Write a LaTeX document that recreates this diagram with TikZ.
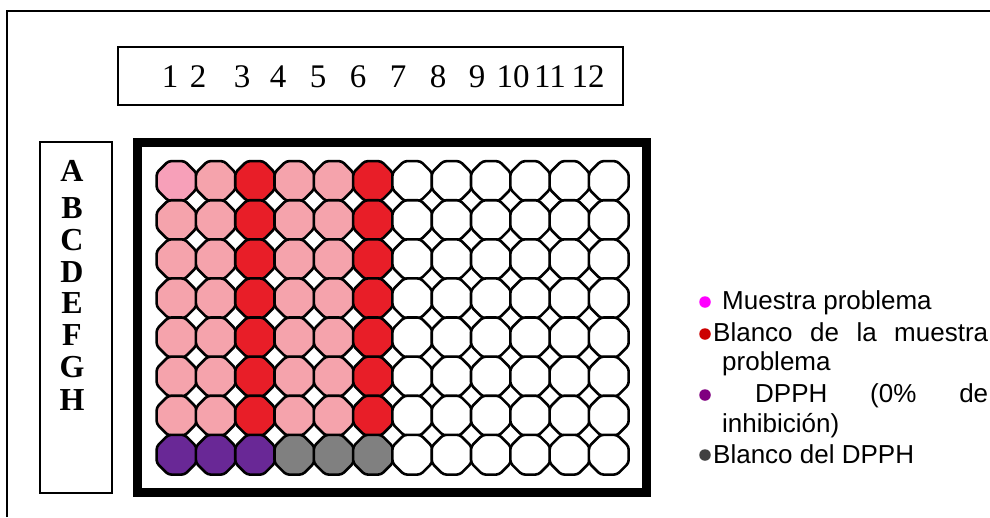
\documentclass[tikz,border=0pt]{standalone}
\usepackage{fontspec}
\setmainfont{Liberation Serif}
\newfontfamily\legendfont{Liberation Sans}
\usetikzlibrary{shapes.geometric}
\definecolor{wellpink}{RGB}{245,163,172}
\definecolor{wellpinkA}{RGB}{247,160,185}
\definecolor{wellred}{RGB}{232,30,40}
\definecolor{wellpurple}{RGB}{105,40,150}
\definecolor{wellgray}{RGB}{128,128,128}
\definecolor{bulmag}{RGB}{255,0,255}
\definecolor{bulred}{RGB}{204,0,0}
\definecolor{bulpur}{RGB}{128,0,128}
\definecolor{bulgray}{RGB}{64,64,64}
\tikzset{
  well/.style={regular polygon, regular polygon sides=8, minimum size=43pt, inner sep=0pt, draw=black, line width=2.6pt, fill=white, rounded corners=3pt},
  labelbox/.style={draw=black, line width=2.5pt, inner sep=0pt},
  platebox/.style={draw=black, line width=9pt, inner sep=0pt},
  bulletdot/.style={circle, inner sep=0pt, minimum size=11.5pt},
  legendtext/.style={anchor=base west, inner sep=0pt, font=\legendfont\fontsize{26}{30}\selectfont},
  colnum/.style={font=\fontsize{33}{36}\selectfont, inner sep=0pt, anchor=base},
  rowlet/.style={font=\bfseries\fontsize{32}{34}\selectfont, inner sep=0pt},
}
\begin{document}
\begin{tikzpicture}[x=1pt,y=-1pt]
\useasboundingbox (0,0) rectangle (990,517);
% outer frame (top and left edges)
\draw[line width=2.5pt] (7,517) -- (7,11) -- (990,11);
% label boxes
\node[labelbox, minimum width=505pt, minimum height=58pt] (numbox) at (370.5,76) {};
\node[labelbox, minimum width=72pt, minimum height=351pt] (letbox) at (76,317.5) {};
% plate frame
\node[platebox, minimum width=508.5pt, minimum height=350pt] (plate) at (391.75,317.5) {};
% column numbers
\foreach \n/\x in {1/170,2/198,3/242,4/278,5/318,6/358,7/398,8/438,9/477,10/513,11/550,12/588}{
  \node[colnum] (num\n) at (\x,87) {\n};
}
% row letters
\foreach \l/\y in {A/171,B/208,C/240,D/272,E/303,F/335,G/367,H/400}{
  \node[rowlet] (let\l) at (72,\y) {\l};
}
% wells
\foreach \r in {1,...,8}{
  \foreach \c in {1,...,12}{
    \def\wc{white}
    \ifnum\r<8
      \ifnum\c<7 \def\wc{wellpink}\fi
      \ifnum\c=3 \def\wc{wellred}\fi
      \ifnum\c=6 \def\wc{wellred}\fi
    \else
      \ifnum\c<7 \def\wc{wellgray}\fi
      \ifnum\c<4 \def\wc{wellpurple}\fi
    \fi
    \ifnum\r=1 \ifnum\c=1 \def\wc{wellpinkA}\fi\fi
    \node[well, fill=\wc] (w\r-\c) at ({176.5+39.3*(\c-1)},{181+39.1*(\r-1)}) {};
  }
}
% legend
\node[bulletdot, fill=bulmag] (b1) at (705,302) {};
\node[legendtext] (t1) at (722,309) {Muestra problema};
\node[bulletdot, fill=bulred] (b2) at (705,334) {};
\node[legendtext] (t2) at (713,341) {\makebox[275pt][s]{Blanco de la muestra}};
\node[legendtext] (t3) at (722,370) {problema};
\node[bulletdot, fill=bulpur] (b3) at (705,395) {};
\node[legendtext] (t4) at (722,402) {\makebox[266pt][l]{\hspace{33pt}DPPH\hfill(0\%\hfill de}};
\node[legendtext] (t5) at (722,432) {inhibición)};
\node[bulletdot, fill=bulgray] (b4) at (705,455) {};
\node[legendtext] (t6) at (713,463) {Blanco del DPPH};
\end{tikzpicture}
\end{document}
